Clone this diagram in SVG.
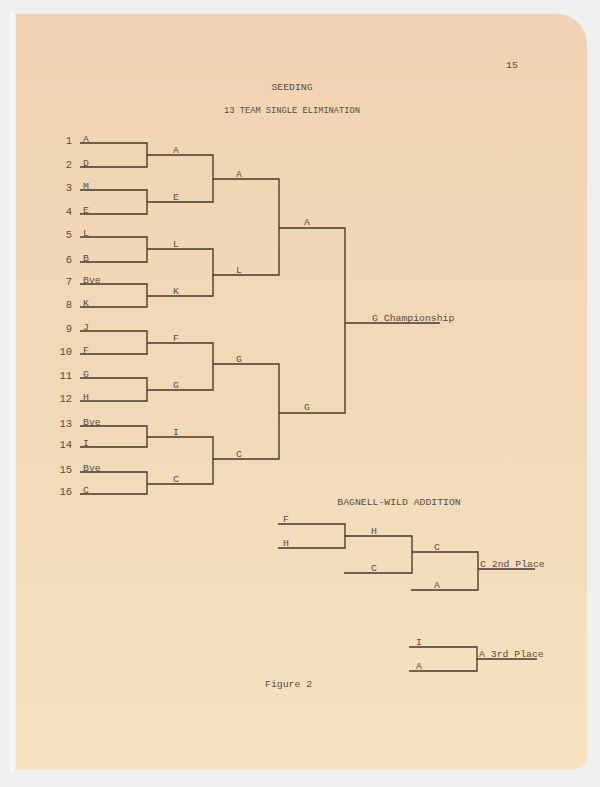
<svg xmlns="http://www.w3.org/2000/svg" width="600" height="787" viewBox="0 0 600 787">
<defs>
<linearGradient id="paper" x1="0" y1="0" x2="0" y2="1">
<stop offset="0" stop-color="#f0d3b2"/>
<stop offset="0.5" stop-color="#f1d9b7"/>
<stop offset="1" stop-color="#f5e2c1"/>
</linearGradient>
<style>
.t{font-family:"Liberation Mono","DejaVu Sans Mono",monospace;font-size:9.8px;fill:#5c4b3d}
.n{font-family:"Liberation Mono","DejaVu Sans Mono",monospace;font-size:10.5px;fill:#5c4b3d;text-anchor:end}
.m{text-anchor:middle}
.c path,.c line{stroke:#46372a;stroke-width:1.35;fill:none}
</style>
</defs>
<rect width="600" height="787" fill="#efefef"/>
<rect x="10" y="10" width="4" height="764" fill="#f7f7f7"/>
<path d="M16 14 H557 A30 30 0 0 1 587 44 V755 A15 15 0 0 1 572 770 H16 Z" fill="url(#paper)"/>

<g id="titles">
<text class="t" x="512" y="68" text-anchor="middle">15</text>
<text class="t m" x="292" y="90">SEEDING</text>
<text class="t m" x="292" y="113" textLength="136" lengthAdjust="spacingAndGlyphs">13 TEAM SINGLE ELIMINATION</text>
<text class="t m" x="399" y="505">BAGNELL-WILD ADDITION</text>
<text class="t" x="265" y="687">Figure 2</text>
</g>

<g id="connectors" class="c">
<path d="M80 143H147V167H80"/>
<path d="M80 190H147V214H80"/>
<path d="M80 237H147V262H80"/>
<path d="M80 284H147V307H80"/>
<path d="M80 331H147V354H80"/>
<path d="M80 378H147V401H80"/>
<path d="M80 426H147V447H80"/>
<path d="M80 472H147V494H80"/>
<path d="M147 155H213V202H147"/>
<path d="M147 249H213V296H147"/>
<path d="M147 343H213V390H147"/>
<path d="M147 437H213V484H147"/>
<path d="M213 179H279V275H213"/>
<path d="M213 364H279V459H213"/>
<path d="M279 228H345V413H279"/>
<line x1="345" y1="323" x2="440" y2="323"/>
<path d="M278 524H345V548H278"/>
<path d="M345 536H412V573H344"/>
<path d="M412 552H478V590H411"/>
<line x1="478" y1="569" x2="535" y2="569"/>
<path d="M409 647H477V671H409"/>
<line x1="477" y1="659" x2="537" y2="659"/>
</g>

<g id="seed1"><text class="n" x="72" y="143.5">1</text><text class="t" x="83" y="142">A</text></g>
<g id="seed2"><text class="n" x="72" y="167.5">2</text><text class="t" x="83" y="166">D</text></g>
<g id="seed3"><text class="n" x="72" y="190.5">3</text><text class="t" x="83" y="189">M</text></g>
<g id="seed4"><text class="n" x="72" y="214.5">4</text><text class="t" x="83" y="213">E</text></g>
<g id="seed5"><text class="n" x="72" y="237.5">5</text><text class="t" x="83" y="236">L</text></g>
<g id="seed6"><text class="n" x="72" y="262.5">6</text><text class="t" x="83" y="261">B</text></g>
<g id="seed7"><text class="n" x="72" y="284.5">7</text><text class="t" x="83" y="283">Bye</text></g>
<g id="seed8"><text class="n" x="72" y="307.5">8</text><text class="t" x="83" y="306">K</text></g>
<g id="seed9"><text class="n" x="72" y="331.5">9</text><text class="t" x="83" y="330">J</text></g>
<g id="seed10"><text class="n" x="72" y="354.5">10</text><text class="t" x="83" y="353">F</text></g>
<g id="seed11"><text class="n" x="72" y="378.5">11</text><text class="t" x="83" y="377">G</text></g>
<g id="seed12"><text class="n" x="72" y="401.5">12</text><text class="t" x="83" y="400">H</text></g>
<g id="seed13"><text class="n" x="72" y="426.5">13</text><text class="t" x="83" y="425">Bye</text></g>
<g id="seed14"><text class="n" x="72" y="447.5">14</text><text class="t" x="83" y="446">I</text></g>
<g id="seed15"><text class="n" x="72" y="472.5">15</text><text class="t" x="83" y="471">Bye</text></g>
<g id="seed16"><text class="n" x="72" y="494.5">16</text><text class="t" x="83" y="493">C</text></g>

<g id="r2-1"><text class="t m" x="176" y="153">A</text></g>
<g id="r2-2"><text class="t m" x="176" y="200">E</text></g>
<g id="r2-3"><text class="t m" x="176" y="247">L</text></g>
<g id="r2-4"><text class="t m" x="176" y="294">K</text></g>
<g id="r2-5"><text class="t m" x="176" y="341">F</text></g>
<g id="r2-6"><text class="t m" x="176" y="388">G</text></g>
<g id="r2-7"><text class="t m" x="176" y="435">I</text></g>
<g id="r2-8"><text class="t m" x="176" y="482">C</text></g>

<g id="r3-1"><text class="t m" x="239" y="177">A</text></g>
<g id="r3-2"><text class="t m" x="239" y="273">L</text></g>
<g id="r3-3"><text class="t m" x="239" y="362">G</text></g>
<g id="r3-4"><text class="t m" x="239" y="457">C</text></g>

<g id="r4-1"><text class="t m" x="307" y="225">A</text></g>
<g id="r4-2"><text class="t m" x="307" y="410">G</text></g>

<g id="champion"><text class="t" x="372" y="321">G Championship</text></g>

<g id="bw-F"><text class="t" x="283" y="522">F</text></g>
<g id="bw-H"><text class="t" x="283" y="546">H</text></g>
<g id="bw-H2"><text class="t m" x="374" y="534">H</text></g>
<g id="bw-C"><text class="t m" x="374" y="571">C</text></g>
<g id="bw-C2"><text class="t m" x="437" y="550">C</text></g>
<g id="bw-A"><text class="t m" x="437" y="588">A</text></g>
<g id="second"><text class="t" x="480" y="567">C 2nd Place</text></g>

<g id="third-I"><text class="t m" x="419" y="645">I</text></g>
<g id="third-A"><text class="t m" x="419" y="669">A</text></g>
<g id="third"><text class="t" x="479" y="657">A 3rd Place</text></g>
</svg>
